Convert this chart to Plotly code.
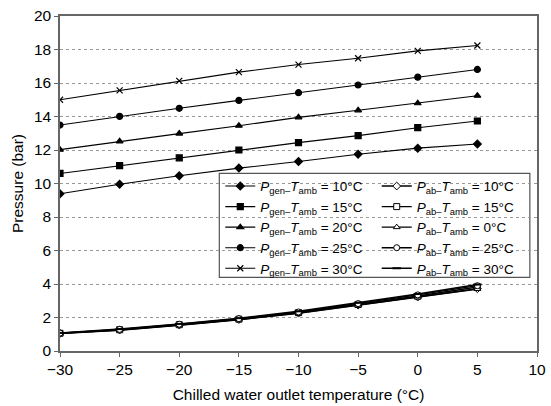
import plotly.graph_objects as go

temps = [-30, -25, -20, -15, -10, -5, 0, 5]

gen10 = [9.39, 9.96, 10.46, 10.92, 11.31, 11.75, 12.11, 12.36]
gen15 = [10.60, 11.07, 11.53, 12.00, 12.44, 12.86, 13.33, 13.73]
gen20 = [12.02, 12.52, 12.98, 13.45, 13.95, 14.37, 14.79, 15.24]
gen25 = [13.49, 14.01, 14.49, 14.96, 15.42, 15.88, 16.35, 16.81]
gen30 = [15.00, 15.56, 16.13, 16.65, 17.10, 17.48, 17.92, 18.24]

ab10 = [1.05, 1.25, 1.55, 1.88, 2.26, 2.74, 3.22, 3.72]
ab15 = [1.06, 1.27, 1.57, 1.90, 2.29, 2.78, 3.28, 3.82]
ab0 = [1.04, 1.24, 1.54, 1.87, 2.25, 2.72, 3.20, 3.70]
ab25 = [1.07, 1.29, 1.60, 1.93, 2.33, 2.83, 3.35, 3.90]
ab30 = [1.08, 1.31, 1.62, 1.96, 2.37, 2.88, 3.40, 3.97]

gen_labels = ["10°C", "15°C", "20°C", "25°C", "30°C"]
ab_labels = ["10°C", "15°C", "0°C", "25°C", "30°C"]

x_ticks = [-30, -25, -20, -15, -10, -5, 0, 5, 10]
y_ticks = [0, 2, 4, 6, 8, 10, 12, 14, 16, 18, 20]

gen_series = [gen10, gen15, gen20, gen25, gen30]
ab_series = [ab10, ab15, ab0, ab25, ab30]
gen_symbols = ["diamond", "square", "triangle-up", "circle", "x-thin-open"]
ab_symbols = ["diamond", "square", "triangle-up", "circle", "line-ew"]

FONT = "Liberation Sans, Arial, sans-serif"

fig = go.Figure()

for vals, lab, sym in zip(gen_series, gen_labels, gen_symbols):
    fig.add_trace(go.Scatter(
        x=temps, y=vals, mode="lines+markers",
        name=f"<i>P</i><sub>gen–</sub><i>T</i><sub>amb</sub> = {lab}",
        line=dict(color="black", width=1.1),
        marker=dict(symbol=sym, size=6, color="black",
                    line=dict(color="black", width=1.2)),
        legend="legend",
    ))

for vals, lab, sym in zip(ab_series, ab_labels, ab_symbols):
    fig.add_trace(go.Scatter(
        x=temps, y=vals, mode="lines+markers",
        name=f"<i>P</i><sub>ab–</sub><i>T</i><sub>amb</sub> = {lab}",
        line=dict(color="black", width=1.4),
        marker=dict(symbol=sym, size=6, color="white",
                    line=dict(color="black", width=1 if sym != "line-ew" else 2)),
        legend="legend2",
    ))

legend_common = dict(
    font=dict(family=FONT, size=13.5, color="black"),
    bgcolor="rgba(0,0,0,0)", borderwidth=0,
    xanchor="left", yanchor="top", tracegroupgap=0, itemwidth=30,
)

fig.update_layout(
    width=551, height=406,
    margin=dict(l=60, r=5, t=16, b=54),
    paper_bgcolor="white", plot_bgcolor="white",
    font=dict(family=FONT, size=15, color="black"),
    showlegend=True,
    legend=dict(x=0.336, y=0.538, **legend_common),
    legend2=dict(x=0.664, y=0.538, **legend_common),
    shapes=[dict(type="rect", xref="paper", yref="paper",
                 x0=0.334, x1=0.985, y0=0.22, y1=0.53,
                 line=dict(color="#555555", width=1.2),
                 fillcolor="white", layer="below")],
)

fig.update_xaxes(
    range=[-30, 10], tickvals=x_ticks,
    ticktext=[("−" + str(-v)) if v < 0 else str(v) for v in x_ticks],
    ticklabeloverflow="allow",
    showgrid=False, zeroline=False,
    showline=True, linecolor="#666666", linewidth=1.5, mirror=True,
    ticks="outside", ticklen=4, tickcolor="#666666",
    tickfont=dict(size=15.5),
    title=dict(text="Chilled water outlet temperature (°C)", font=dict(size=15.5), standoff=12),
)
fig.update_yaxes(
    range=[0, 20], tickvals=y_ticks,
    showgrid=True, gridcolor="#999999", griddash="dot", gridwidth=1,
    zeroline=False,
    showline=True, linecolor="#666666", linewidth=1.5, mirror=True,
    ticks="outside", ticklen=4, tickcolor="#666666",
    tickfont=dict(size=15.5),
    title=dict(text="Pressure (bar)", font=dict(size=15.5), standoff=6),
)

fig.write_html("out.html")
